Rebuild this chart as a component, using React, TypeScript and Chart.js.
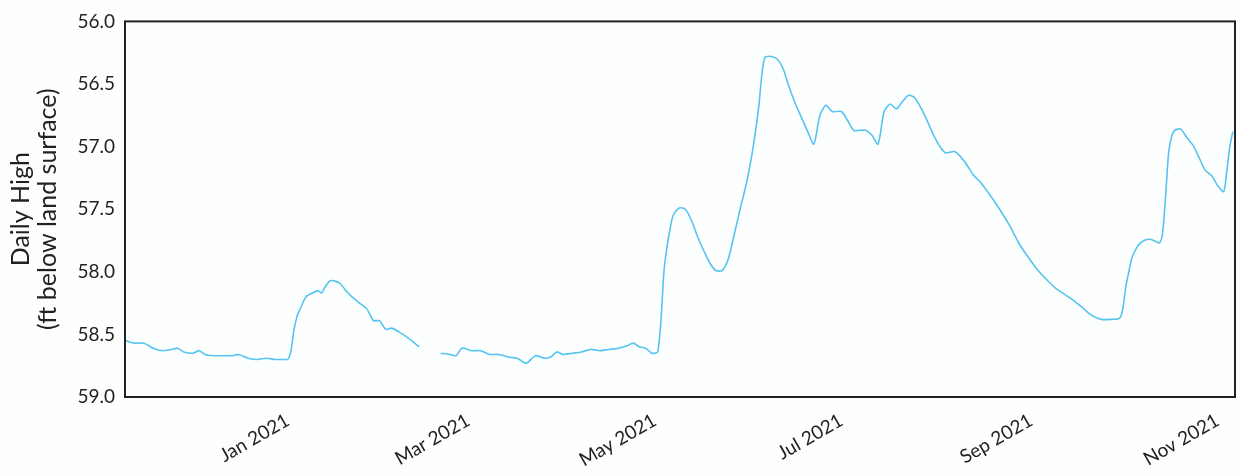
import { useEffect, useRef } from 'react';
import { Chart, registerables } from 'chart.js';

Chart.register(...registerables);

// Observation dates and daily high water level (ft below land surface)
const dates: string[] = [
  '2020-11-09', '2020-11-12', '2020-11-15', '2020-11-18', '2020-11-21', '2020-11-24', '2020-11-26', '2020-11-28',
  '2020-12-01', '2020-12-03', '2020-12-05', '2020-12-08', '2020-12-11', '2020-12-14', '2020-12-16', '2020-12-19',
  '2020-12-22', '2020-12-25', '2020-12-28', '2020-12-31', '2021-01-01', '2021-01-02', '2021-01-03', '2021-01-04',
  '2021-01-05', '2021-01-07', '2021-01-09', '2021-01-11', '2021-01-12', '2021-01-13', '2021-01-15', '2021-01-18',
  '2021-01-20', '2021-01-22', '2021-01-25', '2021-01-27', '2021-01-29', '2021-01-31', '2021-02-02', '2021-02-04',
  '2021-02-07', '2021-02-10', '2021-02-13', '2021-02-17', '2021-02-20', '2021-02-23', '2021-02-25', '2021-02-27',
  '2021-03-02', '2021-03-05', '2021-03-08', '2021-03-11', '2021-03-14', '2021-03-17', '2021-03-20', '2021-03-23',
  '2021-03-26', '2021-03-28', '2021-03-30', '2021-04-01', '2021-04-04', '2021-04-07', '2021-04-10', '2021-04-13',
  '2021-04-16', '2021-04-19', '2021-04-22', '2021-04-24', '2021-04-26', '2021-04-28', '2021-04-30', '2021-05-01',
  '2021-05-02', '2021-05-03', '2021-05-04', '2021-05-05', '2021-05-06', '2021-05-07', '2021-05-09', '2021-05-11',
  '2021-05-13', '2021-05-15', '2021-05-17', '2021-05-19', '2021-05-21', '2021-05-23', '2021-05-25', '2021-05-27',
  '2021-05-29', '2021-05-31', '2021-06-02', '2021-06-04', '2021-06-05', '2021-06-06', '2021-06-08', '2021-06-10',
  '2021-06-12', '2021-06-14', '2021-06-16', '2021-06-18', '2021-06-20', '2021-06-22', '2021-06-24', '2021-06-26',
  '2021-06-28', '2021-07-01', '2021-07-03', '2021-07-05', '2021-07-07', '2021-07-09', '2021-07-11', '2021-07-13',
  '2021-07-15', '2021-07-17', '2021-07-19', '2021-07-21', '2021-07-23', '2021-07-25', '2021-07-27', '2021-07-29',
  '2021-07-31', '2021-08-02', '2021-08-04', '2021-08-07', '2021-08-10', '2021-08-13', '2021-08-16', '2021-08-19',
  '2021-08-22', '2021-08-25', '2021-08-28', '2021-08-31', '2021-09-03', '2021-09-06', '2021-09-09', '2021-09-12',
  '2021-09-15', '2021-09-18', '2021-09-21', '2021-09-24', '2021-09-27', '2021-09-30', '2021-10-01', '2021-10-02',
  '2021-10-03', '2021-10-04', '2021-10-06', '2021-10-08', '2021-10-10', '2021-10-12', '2021-10-13', '2021-10-14',
  '2021-10-15', '2021-10-16', '2021-10-17', '2021-10-18', '2021-10-20', '2021-10-22', '2021-10-24', '2021-10-26',
  '2021-10-28', '2021-10-30', '2021-11-01', '2021-11-03', '2021-11-04', '2021-11-05', '2021-11-06',
];

const dailyHigh: (number | null)[] = [
  58.55, 58.57, 58.57, 58.61, 58.63, 58.62, 58.61, 58.64,
  58.65, 58.63, 58.66, 58.67, 58.67, 58.67, 58.66, 58.69,
  58.70, 58.69, 58.70, 58.70, 58.70, 58.64, 58.47, 58.36,
  58.30, 58.20, 58.17, 58.15, 58.17, 58.13, 58.07, 58.09,
  58.15, 58.20, 58.26, 58.30, 58.39, 58.39, 58.46, 58.45,
  58.49, 58.54, 58.60, null, 58.65, 58.66, 58.67, 58.61,
  58.63, 58.63, 58.66, 58.66, 58.68, 58.69, 58.73, 58.67,
  58.69, 58.68, 58.64, 58.66, 58.65, 58.64, 58.62, 58.63,
  58.62, 58.61, 58.59, 58.57, 58.60, 58.61, 58.65, 58.65,
  58.64, 58.40, 58.00, 57.80, 57.66, 57.55, 57.49, 57.50,
  57.59, 57.72, 57.83, 57.93, 57.99, 57.99, 57.90, 57.70,
  57.49, 57.29, 57.03, 56.68, 56.43, 56.29, 56.28, 56.30,
  56.38, 56.53, 56.66, 56.77, 56.88, 56.98, 56.75, 56.67,
  56.72, 56.72, 56.79, 56.87, 56.87, 56.87, 56.91, 56.98,
  56.72, 56.66, 56.70, 56.64, 56.59, 56.61, 56.69, 56.79,
  56.90, 56.99, 57.05, 57.04, 57.11, 57.22, 57.30, 57.40,
  57.51, 57.63, 57.77, 57.88, 57.98, 58.06, 58.13, 58.18,
  58.23, 58.29, 58.35, 58.38, 58.38, 58.37, 58.30, 58.12,
  58.00, 57.89, 57.79, 57.75, 57.74, 57.76, 57.77, 57.70,
  57.40, 57.05, 56.92, 56.87, 56.86, 56.93, 56.99, 57.09,
  57.19, 57.23, 57.31, 57.36, 57.20, 57.00, 56.88,
];

const tickDates: string[] = ['2021-01-01', '2021-03-01', '2021-05-01', '2021-07-01', '2021-09-01', '2021-11-01'];
const tickLabels: string[] = ['Jan 2021', 'Mar 2021', 'May 2021', 'Jul 2021', 'Sep 2021', 'Nov 2021'];
const yTickValues: number[] = [56.0, 56.5, 57.0, 57.5, 58.0, 58.5, 59.0];
const yTitle: string[] = ['Daily High', '(ft below land surface)'];
const rangeStart = '2020-11-09';
const rangeEnd = '2021-11-06';

const EPOCH = Date.parse('2021-01-01T00:00:00Z');
const dayNum = (s: string) => (Date.parse(s + 'T00:00:00Z') - EPOCH) / 86400000;

const FONT = 'Lato, "Open Sans", "DejaVu Sans", sans-serif';
const INK = '#222222';

const framePlugin = {
  id: 'frame',
  afterDraw(chart: any) {
    const { ctx, chartArea } = chart;
    ctx.save();
    ctx.strokeStyle = INK;
    ctx.lineWidth = 2;
    ctx.strokeRect(chartArea.left, chartArea.top, chartArea.right - chartArea.left, chartArea.bottom - chartArea.top);
    ctx.restore();
  },
};

const bgPlugin = {
  id: 'bg',
  beforeDraw(chart: any) {
    const { ctx, width, height } = chart;
    ctx.save();
    ctx.fillStyle = '#fdffff';
    ctx.fillRect(0, 0, width, height);
    ctx.restore();
  },
};

export default function App() {
  const ref = useRef<HTMLCanvasElement | null>(null);

  useEffect(() => {
    if (!ref.current) return;
    const points = dates.map((d, i) => ({ x: dayNum(d), y: dailyHigh[i] }));
    const chart = new Chart(ref.current, {
      type: 'line',
      data: {
        datasets: [
          {
            data: points as any,
            borderColor: '#55c4f0',
            borderWidth: 1.6,
            pointRadius: 0,
            tension: 0.25,
            spanGaps: false,
            fill: false,
          },
        ],
      },
      options: {
        responsive: false,
        animation: false,
        layout: { padding: { top: 18, right: 3, left: 0, bottom: 0 } },
        plugins: { legend: { display: false }, tooltip: { enabled: false } },
        scales: {
          x: {
            type: 'linear',
            min: dayNum(rangeStart) - 0.2,
            max: dayNum(rangeEnd) + 0.7,
            grid: { display: false, drawTicks: false },
            border: { display: false },
            afterBuildTicks: (s: any) => {
              s.ticks = tickDates.map((d) => ({ value: dayNum(d) }));
            },
            afterFit: (s: any) => {
              s.height = 79;
            },
            ticks: {
              autoSkip: false,
              minRotation: 30,
              maxRotation: 30,
              padding: 12,
              color: INK,
              font: { family: FONT, size: 19 },
              callback: (_v: any, i: number) => tickLabels[i],
            },
          },
          y: {
            type: 'linear',
            reverse: true,
            min: 56,
            max: 59,
            grid: { display: false, drawTicks: false },
            border: { display: false },
            afterBuildTicks: (s: any) => {
              s.ticks = yTickValues.map((v) => ({ value: v }));
            },
            afterFit: (s: any) => {
              s.width = 125;
            },
            ticks: {
              padding: 10,
              color: INK,
              font: { family: FONT, size: 19 },
              callback: (v: any) => Number(v).toFixed(1),
            },
            title: {
              display: true,
              text: yTitle,
              color: INK,
              font: { family: FONT, size: 25, lineHeight: 1.1 },
              padding: { top: 7, bottom: 4 },
            },
          },
        },
      },
      plugins: [bgPlugin, framePlugin],
    });
    return () => chart.destroy();
  }, []);

  return (
    <div style={{ position: 'absolute', left: 0, top: 0, width: 1241, height: 476 }}>
      <canvas ref={ref} width={1241} height={476} style={{ display: 'block' }} />
    </div>
  );
}
